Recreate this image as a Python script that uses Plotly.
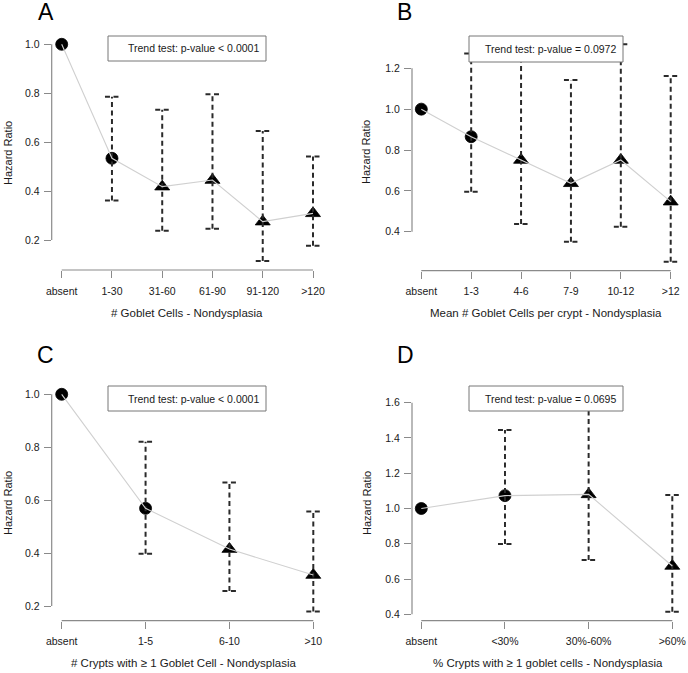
import plotly.graph_objects as go

W, H = 688, 673

# ---------------- data ----------------
a_cats = ["absent", "1-30", "31-60", "61-90", "91-120", ">120"]
a_hr = [1.0, 0.534, 0.418, 0.445, 0.275, 0.309]
a_lo = [None, 0.361, 0.238, 0.246, 0.114, 0.177]
a_hi = [None, 0.786, 0.732, 0.796, 0.646, 0.541]
a_sym = ["circle", "circle", "triangle-up", "triangle-up", "triangle-up", "triangle-up"]
a_yticks = [0.2, 0.4, 0.6, 0.8, 1.0]
a_xtitle = "# Goblet Cells - Nondysplasia"
a_trend = "Trend test: p-value < 0.0001"

b_cats = ["absent", "1-3", "4-6", "7-9", "10-12", ">12"]
b_hr = [1.0, 0.865, 0.751, 0.637, 0.751, 0.547]
b_lo = [None, 0.596, 0.438, 0.351, 0.424, 0.253]
b_hi = [None, 1.273, 1.30, 1.143, 1.318, 1.162]
b_sym = ["circle", "circle", "triangle-up", "triangle-up", "triangle-up", "triangle-up"]
b_yticks = [0.4, 0.6, 0.8, 1.0, 1.2]
b_xtitle = "Mean # Goblet Cells per crypt - Nondysplasia"
b_trend = "Trend test: p-value = 0.0972"

c_cats = ["absent", "1-5", "6-10", ">10"]
c_hr = [1.0, 0.569, 0.415, 0.317]
c_lo = [None, 0.397, 0.257, 0.179]
c_hi = [None, 0.821, 0.667, 0.557]
c_sym = ["circle", "circle", "triangle-up", "triangle-up"]
c_yticks = [0.2, 0.4, 0.6, 0.8, 1.0]
c_xtitle = "# Crypts with \u2265 1 Goblet Cell - Nondysplasia"
c_trend = "Trend test: p-value < 0.0001"

d_cats = ["absent", "<30%", "30%-60%", ">60%"]
d_hr = [1.0, 1.073, 1.08, 0.674]
d_lo = [None, 0.799, 0.708, 0.415]
d_hi = [None, 1.445, 1.63, 1.077]
d_sym = ["circle", "circle", "triangle-up", "triangle-up"]
d_yticks = [0.4, 0.6, 0.8, 1.0, 1.2, 1.4, 1.6]
d_xtitle = "% Crypts with \u2265 1 goblet cells - Nondysplasia"
d_trend = "Trend test: p-value = 0.0695"

ytitle = "Hazard Ratio"
letters = ["A", "B", "C", "D"]

# ---------------- layout geometry (pixels) ----------------
panels = [
    dict(cats=a_cats, hr=a_hr, lo=a_lo, hi=a_hi, sym=a_sym, yt=a_yticks, xt=a_xtitle, tr=a_trend,
         ax=51.7, ay=270.0, x0=61.7, x1=313.0, yv=(0.2, 1.0), yp=(240.0, 44.3), top=26, right=336,
         box=(108, 36, 266, 61), xtc=(187.4, 313), ytc=(8, 153), let=(46, 12)),
    dict(cats=b_cats, hr=b_hr, lo=b_lo, hi=b_hi, sym=b_sym, yt=b_yticks, xt=b_xtitle, tr=b_trend,
         ax=412.0, ay=270.7, x0=421.3, x1=670.7, yv=(0.4, 1.2), yp=(231.7, 68.3), top=26, right=686,
         box=(469, 36, 623, 62), xtc=(546, 313), ytc=(366, 152), let=(404, 12)),
    dict(cats=c_cats, hr=c_hr, lo=c_lo, hi=c_hi, sym=c_sym, yt=c_yticks, xt=c_xtitle, tr=c_trend,
         ax=51.7, ay=620.7, x0=61.7, x1=313.3, yv=(0.2, 1.0), yp=(606.0, 394.3), top=376, right=336,
         box=(108, 386, 266, 411), xtc=(184, 663), ytc=(8, 503), let=(45, 355)),
    dict(cats=d_cats, hr=d_hr, lo=d_lo, hi=d_hi, sym=d_sym, yt=d_yticks, xt=d_xtitle, tr=d_trend,
         ax=412.0, ay=620.7, x0=421.3, x1=672.3, yv=(0.4, 1.6), yp=(614.3, 402.7), top=376, right=686,
         box=(469, 386, 623, 411), xtc=(548, 663), ytc=(367, 503), let=(405, 355)),
]

AXC = "#8a8a8a"
TXT = "#1a1a1a"
FONT = "Liberation Sans, Arial, sans-serif"

fig = go.Figure()
shapes = []
annotations = []

for k, p in enumerate(panels):
    n = len(p["cats"])
    xpu = (p["x1"] - p["x0"]) / (n - 1)
    xr = [-(p["x0"] - p["ax"]) / xpu, (n - 1) + (p["right"] - p["x1"]) / xpu]
    ypu = (p["yp"][0] - p["yp"][1]) / (p["yv"][1] - p["yv"][0])
    yr = [p["yv"][0] - (p["ay"] - p["yp"][0]) / ypu, p["yv"][1] + (p["yp"][1] - p["top"]) / ypu]
    xs = "" if k == 0 else str(k + 1)
    xa, ya = "x" + xs, "y" + xs
    cap = 7.0 / xpu
    xi = list(range(n))

    # markers (drawn first; lines pass over them as in the original)
    sizes = [12 if s == "circle" else 13 for s in p["sym"]]
    fig.add_trace(go.Scatter(x=xi, y=p["hr"], mode="markers", xaxis=xa, yaxis=ya,
                             marker=dict(symbol=p["sym"], size=sizes, color="#000000",
                                         opacity=1, line=dict(width=0.8, color="#000000")),
                             showlegend=False, cliponaxis=False))
    # error bars (dashed)
    ex, ey = [], []
    for i in range(n):
        if p["lo"][i] is None:
            continue
        lo, hi = p["lo"][i], p["hi"][i]
        ex += [i, i, None, i - cap, i + cap, None, i - cap, i + cap, None]
        ey += [lo, hi, None, hi, hi, None, lo, lo, None]
    fig.add_trace(go.Scatter(x=ex, y=ey, mode="lines", xaxis=xa, yaxis=ya,
                             line=dict(color="#2a2a2a", width=2, dash="5px,3.5px"),
                             hoverinfo="skip", showlegend=False, cliponaxis=False))
    # connecting line
    fig.add_trace(go.Scatter(x=xi, y=p["hr"], mode="lines", xaxis=xa, yaxis=ya,
                             line=dict(color="#d0d0d0", width=1.1),
                             showlegend=False, cliponaxis=False))

    dom_x = [p["ax"] / W, p["right"] / W]
    dom_y = [1 - p["ay"] / H, 1 - p["top"] / H]
    common = dict(showgrid=False, zeroline=False, showline=False, ticks="outside",
                  ticklen=7, tickwidth=1.2, tickcolor=AXC, automargin=False,
                  tickfont=dict(family=FONT, size=10.5, color=TXT))
    fig.update_layout(**{
        "xaxis" + xs: dict(domain=dom_x, range=xr, anchor=ya, tickvals=xi, ticktext=p["cats"],
                           ticklabelstandoff=4, **common),
        "yaxis" + xs: dict(domain=dom_y, range=yr, anchor=xa, tickvals=p["yt"], tickformat=".1f",
                           ticklabelstandoff=2, **common),
    })
    # R-style axis lines spanning the tick range
    shapes.append(dict(type="line", xref=xa + " domain", yref=ya, x0=0, x1=0,
                       y0=p["yt"][0], y1=p["yt"][-1], line=dict(color=AXC, width=1.2)))
    shapes.append(dict(type="line", xref=xa, yref=ya + " domain", x0=0, x1=n - 1,
                       y0=0, y1=0, line=dict(color=AXC, width=1.2)))
    # trend-test box
    bx0, by0, bx1, by1 = p["box"]
    shapes.append(dict(type="rect", xref="paper", yref="paper", layer="above",
                       x0=bx0 / W, x1=bx1 / W, y0=1 - by1 / H, y1=1 - by0 / H,
                       fillcolor="white", line=dict(color="#777777", width=1)))
    annotations.append(dict(text=p["tr"], xref="paper", yref="paper",
                            x=(bx1 - 5) / W, y=1 - (by0 + by1) / 2 / H,
                            xanchor="right", yanchor="middle", showarrow=False,
                            font=dict(family=FONT, size=10.5, color=TXT)))
    # axis titles
    annotations.append(dict(text=p["xt"], xref="paper", yref="paper",
                            x=p["xtc"][0] / W, y=1 - p["xtc"][1] / H,
                            xanchor="center", yanchor="middle", showarrow=False,
                            font=dict(family=FONT, size=11.5, color=TXT)))
    annotations.append(dict(text=ytitle, xref="paper", yref="paper", textangle=-90,
                            x=p["ytc"][0] / W, y=1 - p["ytc"][1] / H,
                            xanchor="center", yanchor="middle", showarrow=False,
                            font=dict(family=FONT, size=11, color=TXT)))
    # panel letter
    annotations.append(dict(text=letters[k], xref="paper", yref="paper",
                            x=p["let"][0] / W, y=1 - p["let"][1] / H,
                            xanchor="center", yanchor="middle", showarrow=False,
                            font=dict(family=FONT, size=23, color="#000000")))

fig.update_layout(width=W, height=H, margin=dict(l=0, r=0, t=0, b=0, autoexpand=False),
                  paper_bgcolor="white", plot_bgcolor="white",
                  shapes=shapes, annotations=annotations, showlegend=False)

fig.write_html("out.html", config={"displayModeBar": False},
               post_script="document.body.style.margin='0';document.body.style.padding='0';")
